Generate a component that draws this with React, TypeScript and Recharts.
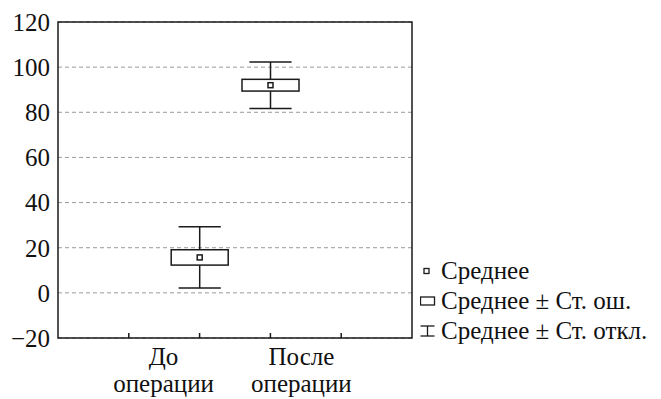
import {
  ComposedChart,
  Bar,
  XAxis,
  YAxis,
  CartesianGrid,
  ReferenceArea,
} from 'recharts'

const categories = ['До операции', 'После операции']
const positions = [2, 3]
const means = [15.7, 92]
const stdErrors = [3.4, 2.6]
const stdDevs = [13.6, 10.3]
const yTicks = [-20, 0, 20, 40, 60, 80, 100, 120]
const xTicks = [1, 2, 3, 4]
const legendLabels = ['Среднее', 'Среднее ± Ст. ош.', 'Среднее ± Ст. откл.']

const data = categories.map((name, i) => ({
  name,
  x: positions[i],
  mean: means[i],
  se: stdErrors[i],
  sd: stdDevs[i],
  range: [means[i] - stdDevs[i], means[i] + stdDevs[i]],
}))

const FONT = '"Liberation Serif", "DejaVu Serif", "Noto Serif", "Times New Roman", serif'
const INK = '#1a1a1a'
// category labels sit apart from their ticks so the two long words don't collide
const labelShift = [-36, 31]

// whole box-whisker mark, scaled from the bar's own pixel extent
function BoxShape(props: any) {
  const { x, y, width, height, payload } = props
  if (!payload) return null
  const k = height / (2 * payload.sd)
  const cx = x + width / 2
  const yMean = y + payload.sd * k
  const boxTop = yMean - payload.se * k
  const boxBottom = yMean + payload.se * k
  const capHalf = width * 0.37
  return (
    <g stroke={INK} strokeWidth={1.5} fill="none">
      <line x1={cx} x2={cx} y1={y} y2={boxTop} />
      <line x1={cx} x2={cx} y1={boxBottom} y2={y + height} />
      <line x1={cx - capHalf} x2={cx + capHalf} y1={y} y2={y} />
      <line x1={cx - capHalf} x2={cx + capHalf} y1={y + height} y2={y + height} />
      <rect x={x} y={boxTop} width={width} height={boxBottom - boxTop} fill="#fff" />
      <rect x={cx - 2.5} y={yMean - 2.5} width={5} height={5} fill="#fff" />
    </g>
  )
}

function BottomTick({ x, y, payload }: any) {
  const idx = positions.indexOf(payload.value)
  const lines = idx >= 0 ? categories[idx].split(' ') : []
  const lx = idx >= 0 ? x + labelShift[idx] : x
  return (
    <g>
      <line x1={x} x2={x} y1={y} y2={y - 5} stroke={INK} strokeWidth={1.5} />
      {idx >= 0 && (
        <text textAnchor="middle" fontSize={25} fontFamily={FONT} fill="#111">
          <tspan x={lx} y={y + 27}>{lines[0]}</tspan>
          <tspan x={lx} y={y + 54}>{lines[1]}</tspan>
        </text>
      )}
    </g>
  )
}

function TopTick({ x, y }: any) {
  return <line x1={x} x2={x} y1={y} y2={y + 5} stroke={INK} strokeWidth={1.5} />
}

function LegendIcon({ kind }: { kind: number }) {
  return (
    <svg width={20} height={14} style={{ marginRight: 1 }}>
      {kind === 0 && <rect x={4} y={4.5} width={5} height={5} fill="#fff" stroke={INK} strokeWidth={1.3} />}
      {kind === 1 && <rect x={0.5} y={3} width={14} height={8} fill="#fff" stroke={INK} strokeWidth={1.3} />}
      {kind === 2 && (
        <g stroke={INK} strokeWidth={1.3}>
          <line x1={0.5} x2={14.5} y1={2} y2={2} />
          <line x1={0.5} x2={14.5} y1={12} y2={12} />
          <line x1={7.5} x2={7.5} y1={2} y2={12} />
        </g>
      )}
    </svg>
  )
}

export default function App() {
  return (
    <div style={{ position: 'absolute', left: 0, top: 0, width: 661, height: 399, background: '#fff' }}>
      <ComposedChart
        width={661}
        height={399}
        data={data}
        margin={{ top: 22, right: 249, bottom: 0, left: 0 }}
      >
        <CartesianGrid vertical={false} stroke="#9a9a9a" strokeDasharray="4 3" />
        <XAxis
          dataKey="x"
          type="number"
          domain={[0, 5]}
          ticks={xTicks}
          height={61}
          axisLine={false}
          tickLine={false}
          tickSize={0}
          tickMargin={0}
          tick={<BottomTick />}
          interval={0}
        />
        <XAxis
          xAxisId="top"
          dataKey="x"
          type="number"
          orientation="top"
          domain={[0, 5]}
          ticks={xTicks}
          height={0}
          axisLine={false}
          tickLine={false}
          tickSize={0}
          tickMargin={0}
          tick={<TopTick />}
          interval={0}
        />
        <YAxis
          type="number"
          domain={[-20, 120]}
          ticks={yTicks}
          width={58}
          axisLine={false}
          tickLine={false}
          tickSize={0}
          tickMargin={8}
          interval={0}
          tickFormatter={(v: number) => (v < 0 ? `−${Math.abs(v)}` : `${v}`)}
          tick={{ fontSize: 25, fill: '#111', fontFamily: FONT }}
        />
        <ReferenceArea x1={0} x2={5} y1={-20} y2={120} fill="none" stroke={INK} strokeWidth={1.5} fillOpacity={0} />
        <Bar dataKey="range" barSize={57} shape={<BoxShape />} isAnimationActive={false} />
      </ComposedChart>
      <div
        style={{
          position: 'absolute',
          left: 420,
          top: 256,
          fontFamily: FONT,
          fontSize: 25,
          color: '#111',
          lineHeight: '30px',
        }}
      >
        {legendLabels.map((label, i) => (
          <div key={label} style={{ display: 'flex', alignItems: 'center', height: 30, whiteSpace: 'nowrap' }}>
            <LegendIcon kind={i} />
            <span>{label}</span>
          </div>
        ))}
      </div>
    </div>
  )
}
